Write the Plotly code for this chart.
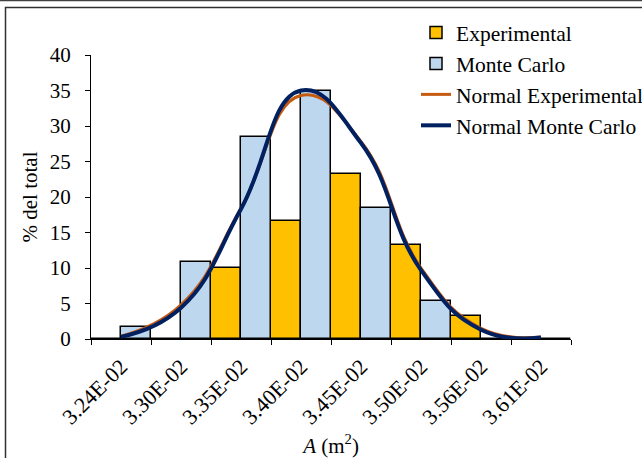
import plotly.graph_objects as go

# Histogram classes (class marks of area A, m^2)
categories = ["3.24E-02", "3.30E-02", "3.35E-02", "3.40E-02",
              "3.45E-02", "3.50E-02", "3.56E-02", "3.61E-02"]

# Percentage of total in each class
experimental = [0, 0, 10.0, 16.6, 23.3, 13.3, 3.3, 0]
monte_carlo = [1.7, 10.8, 28.4, 35.0, 18.4, 5.35, 0, 0]

# Fitted normal curves evaluated at the class marks
normal_experimental = [0.4, 4.8, 18.4, 34.3, 27.8, 10.0, 1.5, 0.3]
normal_monte_carlo = [0.3, 4.4, 18.3, 35.0, 27.6, 9.7, 1.3, 0.2]

FONT = "Liberation Serif"

fig = go.Figure()
fig.add_trace(go.Bar(
    x=categories, y=experimental, name="Experimental",
    marker=dict(color="#FFC000", line=dict(color="black", width=1.5)),
    legendgroup="a"))
fig.add_trace(go.Bar(
    x=categories, y=monte_carlo, name="Monte Carlo",
    marker=dict(color="#BDD7EE", line=dict(color="black", width=1.5)),
    legendgroup="b"))
fig.add_trace(go.Scatter(
    x=categories, y=normal_experimental, name="Normal Experimental",
    mode="lines",
    line=dict(color="#C55A11", width=3, shape="spline", smoothing=1.3),
    legendgroup="c"))
fig.add_trace(go.Scatter(
    x=categories, y=normal_monte_carlo, name="Normal Monte Carlo",
    mode="lines",
    line=dict(color="#002060", width=4, shape="spline", smoothing=1.3),
    legendgroup="d"))

L, R, T, B = 91, 71, 55, 119
W, H = 642, 458
pw, ph = W - L - R, H - T - B


def px(x):
    return (x - L) / pw


def py(y):
    return (H - B - y) / ph


fig.update_layout(
    width=W, height=H,
    margin=dict(l=L, r=R, t=T, b=B, autoexpand=False),
    paper_bgcolor="white", plot_bgcolor="white",
    font=dict(family=FONT, color="black", size=20),
    barmode="group", bargap=0, bargroupgap=0,
    showlegend=True,
    legend=dict(
        x=px(416), y=py(12), xanchor="left", yanchor="top",
        bgcolor="rgba(0,0,0,0)", font=dict(family=FONT, size=21.5),
        traceorder="normal", tracegroupgap=0,
    ),
    xaxis=dict(
        type="category", tickson="boundaries", ticks="outside", ticklen=5,
        tickcolor="black", showline=True, linecolor="black", linewidth=1,
        tickangle=-45, tickfont=dict(family=FONT, size=22), showgrid=False,
        ticklabelstandoff=5,
        title=dict(text="<i>A</i> (m<sup>2</sup>)",
                   font=dict(family=FONT, size=21), standoff=11),
        automargin=False,
    ),
    yaxis=dict(
        range=[0, 40], dtick=5, ticks="outside", ticklen=5, tickcolor="black",
        showline=True, linecolor="black", linewidth=1, showgrid=False,
        zeroline=False, tickfont=dict(family=FONT, size=21),
        ticklabelstandoff=10,
        title=dict(text="% del total", font=dict(family=FONT, size=21),
                   standoff=6),
        automargin=False,
    ),
    shapes=[
        dict(type="line", xref="paper", yref="paper",
             x0=px(-5), x1=px(W + 5), y0=py(0.5), y1=py(0.5),
             line=dict(color="#404040", width=1.5)),
        dict(type="rect", xref="paper", yref="paper",
             x0=px(5.5), x1=px(W + 10), y0=py(7.5), y1=py(H + 10),
             line=dict(color="#303030", width=1.5), fillcolor="rgba(0,0,0,0)"),
    ],
)

fig.write_html("out.html")
